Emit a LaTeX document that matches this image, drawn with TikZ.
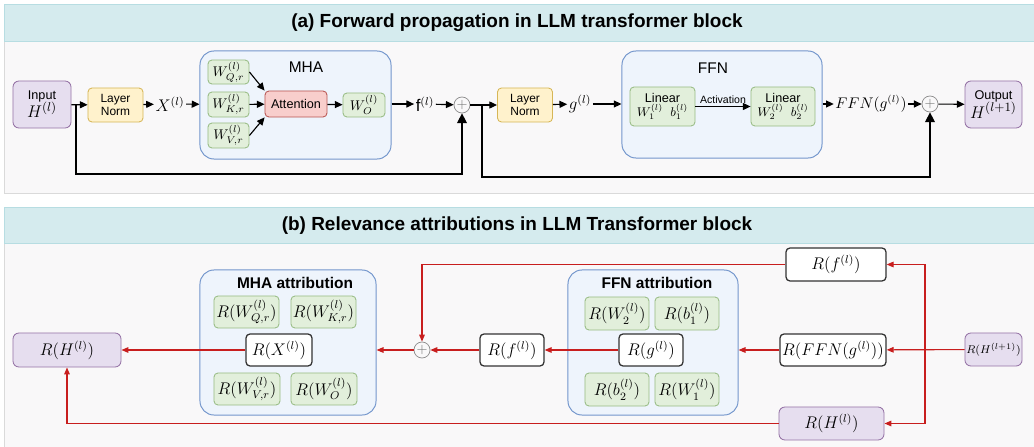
\documentclass[tikz,border=0pt]{standalone}
\usepackage{amsmath,amssymb}
\usepackage{fontspec}
\setmainfont{Liberation Sans}
\usetikzlibrary{arrows.meta}
\definecolor{headteal}{HTML}{D5EBEE}
\definecolor{headline}{HTML}{B7DDE2}
\definecolor{bodygray}{HTML}{F9F8F9}
\definecolor{panelline}{HTML}{DADADA}
\definecolor{purfill}{HTML}{E6DEEF}
\definecolor{purline}{HTML}{9673A6}
\definecolor{yelfill}{HTML}{FFF2CC}
\definecolor{yelline}{HTML}{D6B656}
\definecolor{grnfill}{HTML}{E2EFDB}
\definecolor{grnline}{HTML}{97BB83}
\definecolor{blufill}{HTML}{EEF4FC}
\definecolor{bluline}{HTML}{7396CC}
\definecolor{redfill}{HTML}{F8CECC}
\definecolor{redline}{HTML}{B85450}
\definecolor{relred}{HTML}{C81E1E}
\tikzset{
  every node/.style={inner sep=1pt},
  box/.style={draw,rounded corners=0.1cm,line width=0.6pt,align=center},
  inbox/.style={box,fill=purfill,draw=purline,rounded corners=0.15cm},
  normbox/.style={box,fill=yelfill,draw=yelline,font=\fontsize{8.5}{9.5}\selectfont,minimum width=1.375cm,minimum height=0.85cm},
  wbox/.style={box,fill=grnfill,draw=grnline},
  attbox/.style={box,fill=redfill,draw=redline,font=\fontsize{9}{10}\selectfont},
  rbox/.style={box,fill=white,draw=black!80,line width=0.9pt},
  blkbox/.style={draw=bluline,fill=blufill,rounded corners=0.35cm,line width=0.7pt},
  plusnode/.style={circle,draw=black!45,line width=0.5pt,minimum size=0.4cm,inner sep=0pt,text=black!55},
  fwd/.style={line width=0.8pt,-{Triangle[length=5.5pt,width=5pt]}},
  rel/.style={line width=0.8pt,draw=relred,-{Triangle[length=5pt,width=4pt]},color=relred},
}
\begin{document}
\begin{tikzpicture}[x=0.025cm,y=-0.025cm]
  \useasboundingbox (0,0) rectangle (1034,447);
  % panels
  \path[draw=panelline,fill=bodygray] (4,4) rectangle (1040,193);
  \path[draw=headline,fill=headteal] (4,4) rectangle (1040,41);
  \node[font=\fontsize{13.5}{15}\selectfont\bfseries] (titlea) at (517,23) {(a) Forward propagation in LLM transformer block};
  \path[draw=panelline,fill=bodygray] (4,207) rectangle (1040,450);
  \path[draw=headline,fill=headteal] (4,207) rectangle (1040,243);
  \node[font=\fontsize{13.5}{15}\selectfont\bfseries] (titleb) at (517,226) {(b) Relevance attributions in LLM Transformer block};

  % (a) forward propagation
  \node[inbox,minimum width=1.45cm,minimum height=1.175cm] (inp) at (42,104.5)
    {\fontsize{9}{10}\selectfont Input\\[-1pt] \fontsize{12.5}{13}\selectfont$H^{(l)}$};
  \node[normbox] (ln1) at (115.5,105) {Layer\\Norm};
  \node[font=\large] (xl) at (170,104) {$X^{(l)}$};
  \node[blkbox,minimum width=4.775cm,minimum height=2.7cm] (mha) at (295.5,105) {};
  \node[font=\fontsize{11}{12}\selectfont] (mhat) at (306,67) {MHA};
  \node[wbox,minimum width=1.025cm,minimum height=0.6cm] (wq) at (228.5,72) {$W_{Q,r}^{(l)}$};
  \node[wbox,minimum width=1.025cm,minimum height=0.625cm] (wk) at (228.5,104.5) {$W_{K,r}^{(l)}$};
  \node[wbox,minimum width=1.025cm,minimum height=0.625cm] (wv) at (228.5,135.5) {$W_{V,r}^{(l)}$};
  \node[attbox,minimum width=1.55cm,minimum height=0.65cm] (att) at (296,104) {Attention};
  \node[wbox,minimum width=1.05cm,minimum height=0.6cm] (wo) at (364,105) {$W_{O}^{(l)}$};
  \node[font=\large] (fl) at (425,104) {$\mathrm{f}^{(l)}$};
  \node[plusnode] (plusa) at (462,105) {$+$};
  \node[normbox] (ln2) at (525,105) {Layer\\Norm};
  \node[font=\large] (gl) at (580,104) {$g^{(l)}$};
  \node[blkbox,minimum width=5cm,minimum height=2.675cm] (ffn) at (722,104.5) {};
  \node[font=\fontsize{11}{12}\selectfont] (ffnt) at (713,68) {FFN};
  \node[wbox,minimum width=1.625cm,minimum height=0.975cm,font=\fontsize{9}{10}\selectfont] (lin1) at (662.5,106.5)
    {Linear\\$W_1^{(l)}\;\;b_1^{(l)}$};
  \node[wbox,minimum width=1.6cm,minimum height=0.975cm,font=\fontsize{9}{10}\selectfont] (lin2) at (783,106.5)
    {Linear\\$W_2^{(l)}\;\;b_2^{(l)}$};
  \node[font=\fontsize{10.5}{12}\selectfont] (ffng) at (871,104) {$FFN(g^{(l)})$};
  \node[plusnode] (plusb) at (930,104) {$+$};
  \node[inbox,minimum width=1.425cm,minimum height=1.175cm] (out) at (993.5,104.5)
    {\fontsize{9}{10}\selectfont Output\\[-1pt] \fontsize{12.5}{13}\selectfont$H^{(l+1)}$};
  \coordinate (sk1) at (76,105);
  \coordinate (sk2) at (482,105);

  \draw[fwd] (inp) -- (ln1);
  \draw[fwd] (ln1) -- (xl);
  \draw[fwd] (xl) -- (mha);
  \draw[fwd] (wq.east) -- (att.north west);
  \draw[fwd] (wk) -- (att);
  \draw[fwd] (wv.east) -- (att.south west);
  \draw[fwd] (att) -- (wo);
  \draw[fwd] (mha.east |- fl) -- (fl);
  \draw[fwd] (fl) -- (plusa);
  \draw[fwd] (plusa) -- (ln2);
  \draw[fwd] (ln2) -- (gl);
  \draw[fwd] (gl) -- (gl -| ffn.west);
  \draw[fwd] (lin1) -- node[above,font=\fontsize{7.5}{8}\selectfont,inner sep=2pt] (actl) {Activation} (lin2);
  \draw[fwd] (ffn.east |- ffng) -- (ffng);
  \draw[fwd] (ffng) -- (plusb);
  \draw[fwd] (plusb) -- (out);
  \draw[fwd,-{Triangle[length=7pt,width=7pt]}] (sk1) -- ++(0,69) -| (plusa);
  \draw[fwd,-{Triangle[length=7pt,width=7pt]}] (sk2) -- ++(0,72) -| (plusb);

  % (b) relevance attributions
  \node[inbox,minimum width=2.7cm,minimum height=0.85cm,font=\large] (rh) at (67,350) {$R(H^{(l)})$};
  \node[blkbox,minimum width=4.4cm,minimum height=3.625cm] (mhab) at (288,342.5) {};
  \node[font=\fontsize{11}{12}\selectfont\bfseries] (mhabt) at (295,283) {MHA attribution};
  \node[wbox,minimum width=1.625cm,minimum height=0.8cm,font=\large] (rwq) at (246.5,312) {$R(W_{Q,r}^{(l)})$};
  \node[wbox,minimum width=1.625cm,minimum height=0.8cm,font=\large] (rwk) at (323.5,312) {$R(W_{K,r}^{(l)})$};
  \node[rbox,minimum width=1.65cm,minimum height=0.8cm,font=\large] (rx) at (279,350) {$R(X^{(l)})$};
  \node[wbox,minimum width=1.65cm,minimum height=0.8cm,font=\large] (rwv) at (247,389) {$R(W_{V,r}^{(l)})$};
  \node[wbox,minimum width=1.65cm,minimum height=0.8cm,font=\large] (rwo) at (324,389) {$R(W_{O}^{(l)})$};
  \node[plusnode] (plusc) at (422,350) {$+$};
  \node[rbox,minimum width=1.6cm,minimum height=0.8cm,font=\large] (rf1) at (512,350) {$R(f^{(l)})$};
  \node[blkbox,minimum width=4.25cm,minimum height=3.625cm] (ffnb) at (653,342.5) {};
  \node[font=\fontsize{11}{12}\selectfont\bfseries] (ffnbt) at (657,283) {FFN attribution};
  \node[wbox,minimum width=1.6cm,minimum height=0.825cm,font=\large] (rw2) at (617,313.5) {$R(W_2^{(l)})$};
  \node[wbox,minimum width=1.6cm,minimum height=0.825cm,font=\large] (rb1) at (687,313.5) {$R(b_1^{(l)})$};
  \node[rbox,minimum width=1.6cm,minimum height=0.8cm,font=\large] (rg) at (651,350) {$R(g^{(l)})$};
  \node[wbox,minimum width=1.6cm,minimum height=0.825cm,font=\large] (rb2) at (617,389.5) {$R(b_2^{(l)})$};
  \node[wbox,minimum width=1.6cm,minimum height=0.825cm,font=\large] (rw1) at (687,389.5) {$R(W_1^{(l)})$};
  \node[rbox,minimum width=2.65cm,minimum height=0.8cm,font=\large] (rffn) at (833,350) {$R(FFN(g^{(l)}))$};
  \node[rbox,minimum width=2.5cm,minimum height=0.825cm,font=\large] (rf2) at (836,264.5) {$R(f^{(l)})$};
  \node[inbox,minimum width=2.625cm,minimum height=0.825cm,font=\large] (rh2) at (831.5,423.5) {$R(H^{(l)})$};
  \node[inbox,minimum width=1.425cm,minimum height=0.825cm,font=\footnotesize] (rhn) at (993.5,349.5) {$R(H^{(l+1)})$};
  \coordinate (br) at (925,350);

  \draw[rel] (rhn) -- (rffn);
  \draw[rel] (br) |- (rf2);
  \draw[rel] (br) |- (rh2);
  \draw[rel] (rffn) -- (rffn -| ffnb.east);
  \draw[rel] (rg) -- (rf1);
  \draw[rel] (rf1) -- (plusc);
  \draw[rel] (plusc) -- (plusc -| mhab.east);
  \draw[rel] (rx) -- (rh);
  \draw[rel] (rf2) -| (plusc);
  \draw[rel] (rh2) -| (rh);
\end{tikzpicture}
\end{document}
